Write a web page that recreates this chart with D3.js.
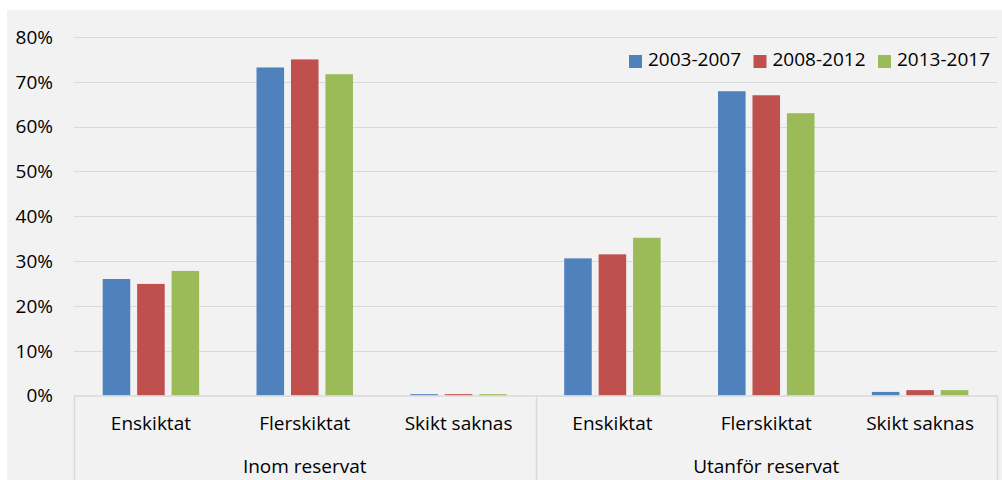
<!DOCTYPE html>
<html>
<head>
<meta charset="utf-8">
<script src="https://cdn.jsdelivr.net/npm/d3@7"></script>
<style>
  html, body { margin: 0; padding: 0; background: #ffffff; }
  svg { display: block; font-family: "Open Sans", "Noto Sans", sans-serif; }
</style>
</head>
<body>
<svg id="chart" width="1002" height="480"></svg>
<script>
// ---- data ----
const groups = ["Inom reservat", "Utanför reservat"];
const categories = ["Enskiktat", "Flerskiktat", "Skikt saknas"];
const series = ["2003-2007", "2008-2012", "2013-2017"];
const colors = ["#4f81bd", "#c0504d", "#9bbb59"];
// values in percent, order: groups x categories
const values2003 = [26.0, 73.2, 0.3, 30.6, 67.9, 0.8];
const values2008 = [24.9, 75.0, 0.3, 31.5, 67.0, 1.2];
const values2013 = [27.8, 71.7, 0.3, 35.2, 63.0, 1.2];
const yTicks = [0, 10, 20, 30, 40, 50, 60, 70, 80];
const yTickLabels = ["0%", "10%", "20%", "30%", "40%", "50%", "60%", "70%", "80%"];

(function () {
const seriesValues = [values2003, values2008, values2013];
const slots = [];
groups.forEach((g, gi) => categories.forEach((c, ci) => slots.push({ key: g + "|" + c, group: g, cat: c, idx: gi * categories.length + ci })));

// ---- layout ----
const svg = d3.select("#chart");
const mLeft = 74, mRight = 997, mTop = 37, mBottom = 395.5;
const fs = "19px";

svg.append("rect").attr("x", 7).attr("y", 10).attr("width", 995).attr("height", 470).attr("fill", "#f2f2f2");

const y = d3.scaleLinear().domain([0, 80]).range([mBottom, mTop]);
const x0 = d3.scaleBand().domain(slots.map(d => d.key)).range([mLeft, mRight]).padding(0);
const innerW = x0.bandwidth() * 0.627;
const x1 = d3.scaleBand().domain(series).range([0, innerW]).paddingInner(0.2).paddingOuter(0);
const innerOff = (x0.bandwidth() - innerW) / 2;

// gridlines
svg.append("g").selectAll("line").data(yTicks.filter(t => t > 0)).join("line")
  .attr("x1", mLeft).attr("x2", mRight)
  .attr("y1", d => Math.round(y(d)) + 0.5).attr("y2", d => Math.round(y(d)) + 0.5)
  .attr("stroke", "#d9d9d9").attr("stroke-width", 1);

// y tick labels
svg.append("g").selectAll("text").data(yTicks).join("text")
  .attr("x", 53).attr("y", d => y(d))
  .attr("dy", "0.36em")
  .attr("text-anchor", "end")
  .attr("font-size", fs).attr("fill", "#000")
  .text((d, i) => yTickLabels[i]);

// bars
const barData = [];
slots.forEach(s => series.forEach((se, si) => barData.push({ slot: s.key, series: se, si, v: seriesValues[si][s.idx] })));
svg.append("g").selectAll("rect").data(barData).join("rect")
  .attr("x", d => x0(d.slot) + innerOff + x1(d.series))
  .attr("width", x1.bandwidth())
  .attr("y", d => y(d.v))
  .attr("height", d => mBottom - y(d.v))
  .attr("fill", d => colors[d.si]);

// category axis line
svg.append("line").attr("x1", mLeft).attr("x2", mRight).attr("y1", 396).attr("y2", 396)
  .attr("stroke", "#d9d9d9").attr("stroke-width", 1.5);

// group separators
const groupEdges = [mLeft, x0(slots[categories.length].key), mRight];
svg.append("g").selectAll("line").data(groupEdges).join("line")
  .attr("x1", d => Math.round(d) + 0.5).attr("x2", d => Math.round(d) + 0.5)
  .attr("y1", 396).attr("y2", 480)
  .attr("stroke", "#d9d9d9").attr("stroke-width", 1.5);

// category labels
svg.append("g").selectAll("text").data(slots).join("text")
  .attr("x", d => x0(d.key) + x0.bandwidth() / 2)
  .attr("y", 430)
  .attr("text-anchor", "middle")
  .attr("font-size", fs).attr("fill", "#000")
  .text(d => d.cat);

// group labels
svg.append("g").selectAll("text").data(groups).join("text")
  .attr("x", (d, i) => (groupEdges[i] + groupEdges[i + 1]) / 2)
  .attr("y", 473)
  .attr("text-anchor", "middle")
  .attr("font-size", fs).attr("fill", "#000")
  .text(d => d);

// legend
const legend = svg.append("g");
const lg = legend.selectAll("g").data(series).join("g")
  .attr("transform", (d, i) => `translate(${629 + i * 124.5},0)`);
lg.append("rect").attr("x", 0).attr("y", 55).attr("width", 13).attr("height", 13).attr("fill", (d, i) => colors[i]);
lg.append("text").attr("x", 19).attr("y", 66).attr("font-size", fs).attr("fill", "#000").text(d => d);
})();
</script>
</body>
</html>
